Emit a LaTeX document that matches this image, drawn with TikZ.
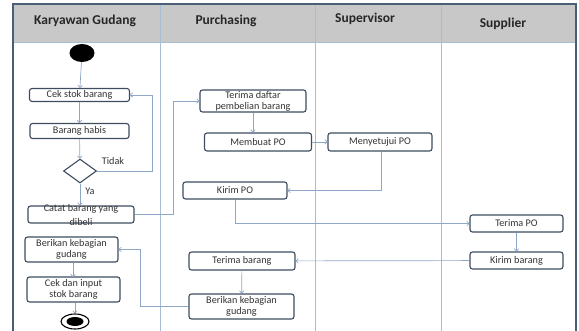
\documentclass[tikz,border=0pt]{standalone}
\usepackage{fontspec}
\setmainfont{Carlito}
\usetikzlibrary{arrows.meta,shapes.geometric}
\definecolor{frameblue}{HTML}{4A5E78}
\definecolor{laneline}{HTML}{A9BDD2}
\definecolor{headgray}{HTML}{C8C8C8}
\definecolor{boxedge}{HTML}{3E4C60}
\definecolor{flowline}{HTML}{8EA7C6}
\tikzset{
  actbox/.style={draw=boxedge, line width=1.1pt, rounded corners=2.5pt, fill=white,
    inner sep=0pt, font=\fontsize{10.2}{11}\selectfont, align=center, text=black!80},
  lanetitle/.style={font=\bfseries\fontsize{13.5}{14}\selectfont, text=black!85},
  flow/.style={draw=flowline, line width=0.7pt, -{To[length=3pt,width=5pt]}},
  lbl/.style={font=\fontsize{10.2}{11}\selectfont, text=black!80}
}
\begin{document}
\begin{tikzpicture}[x=1pt,y=-1pt]
\useasboundingbox (0,0) rectangle (579,331);
% header band and lanes
\fill[headgray] (13,4) rectangle (576,42);
\draw[laneline, line width=0.8pt] (13,42) -- (576,42);
\foreach \lx in {160,315,441} \draw[laneline, line width=0.8pt] (\lx,4) -- (\lx,331);
\draw[frameblue, line width=1.6pt] (13,331) -- (13,4) -- (576,4) -- (576,331);
\node[lanetitle] (tkg) at (85,21) {Karyawan Gudang};
\node[lanetitle] (tpu) at (226,21) {Purchasing};
\node[lanetitle] (tsv) at (365,19) {Supervisor};
\node[lanetitle] (tsp) at (503,24) {Supplier};

% Karyawan Gudang lane
\node[ellipse, fill=black, minimum width=25pt, minimum height=18pt, inner sep=0pt] (start) at (82,53) {};
\node[actbox, minimum width=100pt, minimum height=13pt] (cek) at (79.5,95) {Cek stok barang};
\node[actbox, minimum width=99pt, minimum height=15pt] (habis) at (79.5,131) {Barang habis};
\node[diamond, draw=boxedge, line width=1.1pt, fill=white, minimum width=33pt, minimum height=24pt, inner sep=0pt, aspect=1.4] (dec) at (80,171) {};
\node[lbl] (tidak) at (113,161) {Tidak};
\node[lbl] (ya) at (90,191) {Ya};
\node[actbox, minimum width=106pt, minimum height=17pt] (catat) at (81,214.5) {};
\node[lbl, align=center, font=\fontsize{10.2}{14}\selectfont] (catatt) at (catat) {Catat barang yang\\dibeli};
\node[actbox, minimum width=93pt, minimum height=25pt] (berkg) at (71.5,249.5) {Berikan kebagian\\gudang};
\node[actbox, minimum width=93pt, minimum height=25pt] (cekin) at (73.5,289.5) {Cek dan input\\stok barang};
\node[ellipse, draw=black, line width=1.1pt, fill=white, minimum width=28pt, minimum height=15pt, inner sep=0pt] (stop) at (75,321.5) {};
\node[ellipse, fill=black, minimum width=17pt, minimum height=9pt, inner sep=0pt] (stopin) at (stop) {};

% Purchasing lane
\node[actbox, minimum width=106pt, minimum height=22pt] (terdaf) at (253,101) {Terima daftar\\pembelian barang};
\node[actbox, minimum width=107pt, minimum height=18pt] (buat) at (258,142) {Membuat PO};
\node[actbox, minimum width=104pt, minimum height=17pt] (kirpo) at (235,190.5) {Kirim PO};
\node[actbox, minimum width=106pt, minimum height=18pt] (terbar) at (242,261) {Terima barang};
\node[actbox, minimum width=105pt, minimum height=25pt] (berpu) at (241.5,306.5) {Berikan kebagian\\gudang};

% Supervisor lane
\node[actbox, minimum width=104pt, minimum height=18pt] (setuju) at (380,142) {Menyetujui PO};

% Supplier lane
\node[actbox, minimum width=93pt, minimum height=17pt] (terpo) at (516.5,223.5) {Terima PO};
\node[actbox, minimum width=93pt, minimum height=17pt] (kirbar) at (516.5,260.5) {Kirim barang};

% flows
\draw[flow] (start) -- (cek);
\draw[flow] (cek) -- (habis);
\draw[flow] (habis) -- (dec);
\draw[flow] (dec.east) -- (152,171) |- (cek.east);
\draw[flow] (dec.south) -- (catat.north -| dec.south);
\draw[flow] (catat.east) -- (173,214.5) |- (terdaf.west);
\draw[flow] (terdaf) -- (terdaf.south |- buat.north);
\draw[flow] (buat) -- (setuju);
\draw[flow] (setuju.south -| 381,0) -- (381,190.5) -- (kirpo.east);
\draw[flow] (kirpo.south) -- (235,223.5) -- (terpo.west);
\draw[flow] (terpo) -- (kirbar);
\draw[flow] (kirbar) -- (terbar);
\draw[flow] (terbar) -- (berpu);
\draw[flow] (berpu.west) -- (140,306.5) |- (berkg.east);
\draw[flow] (berkg.south -| 73,0) -- (73,277);
\draw[flow] (cekin.south -| 75,0) -- (stop.north);
\end{tikzpicture}
\end{document}
